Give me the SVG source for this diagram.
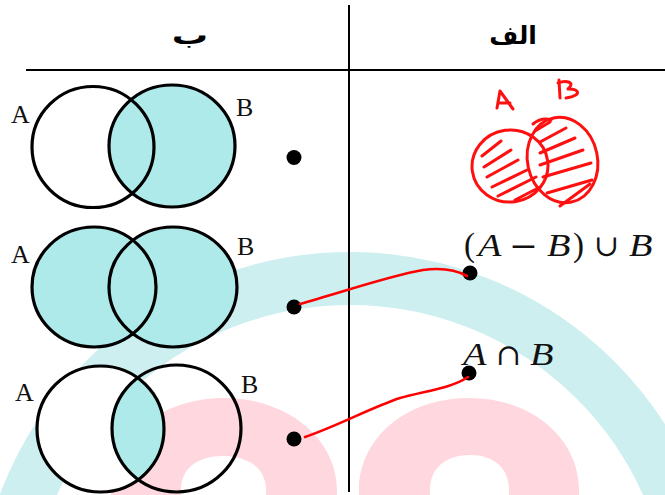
<svg xmlns="http://www.w3.org/2000/svg" width="665" height="495" viewBox="0 0 665 495">
<defs>
<style>
.wm-c{fill:none;stroke:#cdeff0;stroke-width:53}
.wm-p{fill:#ffd7df;fill-rule:evenodd}
.ln{stroke:#000;stroke-width:2}
.vc{stroke:#000;stroke-width:3.2}
.sh{fill:#aeeaea}
.lab{font-family:"Liberation Serif","Times New Roman",serif;font-size:26px;fill:#111}
.hd{font-family:"DejaVu Sans","Noto Sans",sans-serif;font-size:25px;font-weight:bold;fill:#000}
.it{font-family:"Liberation Serif","DejaVu Serif",serif;font-style:italic;font-size:32px;fill:#111}
.op{font-family:"DejaVu Serif","Liberation Serif",serif;font-size:30px;fill:#111}
.par{font-family:"Liberation Serif","DejaVu Serif",serif;font-size:33px;fill:#111}
.dot{fill:#000}
.rd{fill:none;stroke:#ff0000;stroke-width:2.6;stroke-linecap:round;stroke-linejoin:round}
.sk{fill:none;stroke:#ff1010;stroke-width:3;stroke-linecap:round;stroke-linejoin:round}
</style>
<clipPath id="clipA3"><ellipse cx="100.5" cy="429" rx="63.5" ry="63"/></clipPath>
</defs>

<g id="watermark">
<circle class="wm-c" cx="350" cy="626" r="347.5"/>
<path class="wm-p" d="M111,500 L111,490 C111,440 159,398 224,398 C289,398 337,440 337,490 L337,500 Z M181,500 L181,490 C181,468 198,456 223,456 C248,456 266,468 266,490 L266,500 Z"/>
<path class="wm-p" d="M359,500 L359,490 C359,440 404,398 469,398 C534,398 579,440 579,490 L579,500 Z M430,500 L430,490 C430,468 446,455 470,455 C494,455 509,468 509,490 L509,500 Z"/>
</g>

<g id="table">
<line class="ln" x1="349" y1="5" x2="349" y2="492"/>
<line class="ln" x1="26" y1="70" x2="665" y2="70" stroke-width="2.5"/>
<text class="hd" transform="translate(190,44) scale(1.45,1)" text-anchor="middle">ب</text>
<text class="hd" x="513" y="44" text-anchor="middle">الف</text>
</g>

<g id="venn1">
<ellipse cx="93" cy="147" rx="61" ry="60.5" fill="#fff"/>
<ellipse class="sh" cx="172" cy="146" rx="63" ry="61"/>
<ellipse class="vc" cx="93" cy="147" rx="61" ry="60.5" fill="none"/>
<ellipse class="vc" cx="172" cy="146" rx="63" ry="61" fill="none"/>
<text class="lab" x="11" y="123">A</text>
<text class="lab" x="236" y="116">B</text>
</g>

<g id="venn2">
<ellipse class="sh" cx="94" cy="287" rx="62" ry="60"/>
<ellipse class="sh" cx="173" cy="287" rx="64" ry="60"/>
<ellipse class="vc" cx="94" cy="287" rx="62" ry="60" fill="none"/>
<ellipse class="vc" cx="173" cy="287" rx="64" ry="60" fill="none"/>
<text class="lab" x="11" y="263">A</text>
<text class="lab" x="237" y="255">B</text>
</g>

<g id="venn3">
<ellipse cx="100.5" cy="429" rx="63.5" ry="63" fill="#fff"/>
<ellipse class="sh" cx="176.5" cy="428.5" rx="64.5" ry="63.5" clip-path="url(#clipA3)"/>
<ellipse class="vc" cx="100.5" cy="429" rx="63.5" ry="63" fill="none"/>
<ellipse class="vc" cx="176.5" cy="428.5" rx="64.5" ry="63.5" fill="none"/>
<text class="lab" x="15" y="401">A</text>
<text class="lab" x="241" y="393">B</text>
</g>

<g id="sketch">
<path class="sk" d="M497,108 L500,91 L513,109 M498,103 L510,103"/>
<path class="sk" d="M559,80 L560,98 M558,83 C566,80 576,82 568,89 C578,88 584,95 566,98"/>
<ellipse class="sk" cx="510" cy="166" rx="38" ry="36" transform="rotate(-8 510 166)"/>
<ellipse class="sk" cx="562.5" cy="160" rx="35" ry="43" transform="rotate(-12 562.5 160)"/>
<path class="sk" d="M533,124 C538,120 545,118 551,120"/>
<path class="sk" d="M482,156 L501,141 M484,167 L511,150 M487,177 L518,160 M492,187 L527,170 M498,196 L536,177 M515,200 L540,187"/>
<path class="sk" d="M535,131 L550,122 M540,142 L566,128 M540,153 L575,138 M540,165 L583,150 M543,177 L591,163 M547,193 L592,180 M560,206 L590,184"/>
</g>

<g id="expr1">
<text class="par" x="464" y="256">(</text>
<text class="it" transform="translate(478,256) scale(1.2,1)">A</text>
<text class="op" transform="translate(509,256) scale(1.15,1)">−</text>
<text class="it" transform="translate(547,256) scale(1.2,1)">B</text>
<text class="par" x="573" y="256">)</text>
<text class="op" x="594" y="256">∪</text>
<text class="it" transform="translate(629,256) scale(1.2,1)">B</text>
</g>

<g id="expr2">
<text class="it" transform="translate(463,365) scale(1.2,1)">A</text>
<text class="op" x="496" y="365">∩</text>
<text class="it" transform="translate(530,365) scale(1.2,1)">B</text>
</g>

<g id="dots">
<circle class="dot" cx="294" cy="157.5" r="7.5"/>
<circle class="dot" cx="294" cy="307" r="7.5"/>
<circle class="dot" cx="294" cy="439" r="7.5"/>
<circle class="dot" cx="470" cy="273" r="7.5"/>
<circle class="dot" cx="469" cy="373" r="7.5"/>
</g>

<g id="connectors">
<path class="rd" d="M300,304 C340,293 388,276 423,270 C445,267 458,271 467,276"/>
<path class="rd" d="M305,437 C340,425 370,408 400,398 C425,391 452,388 468,377"/>
</g>
</svg>
